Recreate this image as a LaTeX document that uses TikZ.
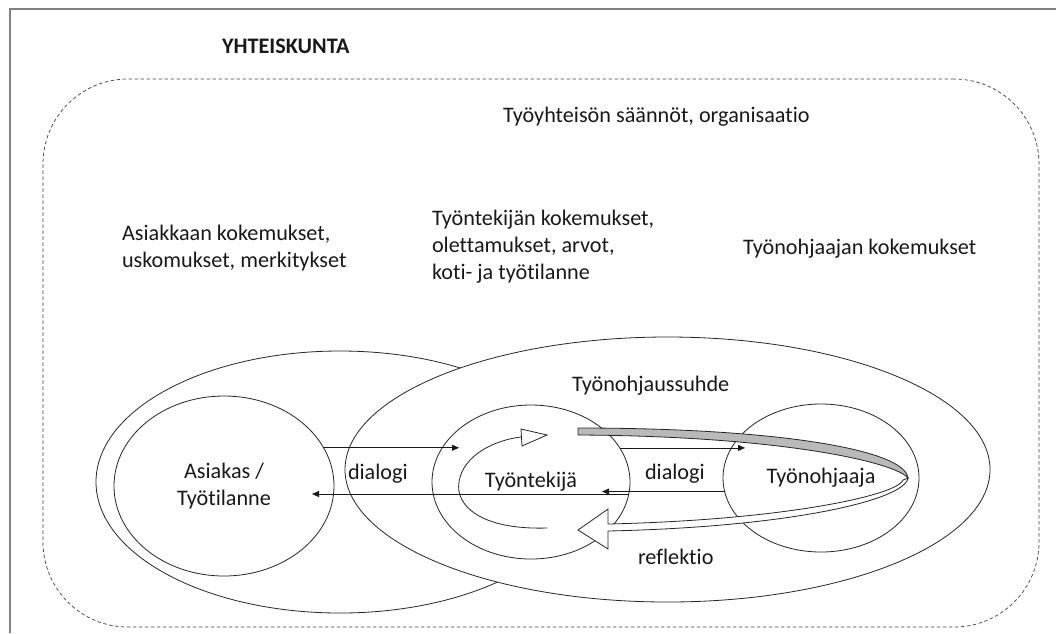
\documentclass[tikz,border=0pt]{standalone}
\usepackage{fontspec}
\setmainfont{Carlito}[Ligatures=NoCommon]
\usetikzlibrary{shapes.geometric,arrows.meta,calc}
\begin{document}
\begin{tikzpicture}[x=1pt,y=-1pt,
  every node/.style={inner sep=0pt, outer sep=0pt},
  txt/.style={font=\fontsize{22.2}{27}\selectfont, text=black!90},
  ring/.style={ellipse, draw=black!85, line width=0.8pt},
  thinline/.style={draw=black!85, line width=0.8pt},
  dlg/.style={draw=black!90, line width=0.8pt, -{Triangle[length=7pt,width=6pt]}},
  society/.style={draw=black!75, line width=0.7pt, dash pattern=on 3.5pt off 2.5pt, rounded corners=85pt},
]
\useasboundingbox (0,0) rectangle (1056,633);

% page frame
\draw[gray, line width=2pt] (10,633) -- (10,9) -- (1056,9);

% society boundary
\node[society, minimum width=996pt, minimum height=548pt] (yhteiskunta) at (541,353) {};
\node[txt, anchor=base west] (yhtlabel) at (222,53) {\bfseries YHTEISKUNTA};

% context texts
\node[txt, anchor=base west] (saannot) at (503,122) {Työyhteisön säännöt, organisaatio};
\node[txt, anchor=base west] (akok1) at (122,240) {Asiakkaan kokemukset,};
\node[txt, anchor=base west] (akok2) at (122,267) {uskomukset, merkitykset};
\node[txt, anchor=base west] (tkok1) at (432,225) {Työntekijän kokemukset,};
\node[txt, anchor=base west] (tkok2) at (432,252) {olettamukset, arvot,};
\node[txt, anchor=base west] (tkok3) at (432,279) {koti- ja työtilanne};
\node[txt, anchor=base west] (tokok) at (743,254) {Työnohjaajan kokemukset};

% fields
\node[ring, fill=white, minimum width=488pt, minimum height=262pt] (asiakasfield) at (340,482) {};
\node[ring, fill=white, minimum width=645pt, minimum height=265pt] (suhde) at (667.5,469.5) {};
\node[txt, anchor=base west] (suhdelabel) at (572,391) {Työnohjaussuhde};

% actors
\node[ring, txt, align=center, minimum width=220pt, minimum height=180pt] (asiakas) at (224,486) {Asiakas /\\Työtilanne};
\node[ring, txt, minimum width=198pt, minimum height=154pt] (tk) at (531,482) {Työntekijä};
\node[ring, txt, minimum width=196pt, minimum height=148pt] (to) at (821,478) {Työnohjaaja};

% dialogue arrows
\draw[dlg] (asiakas.21.5) -- ($(asiakas.21.5 -| tk.west)+(27,0)$);
\draw[dlg] (tk.353.6) -- ($(tk.353.6 -| asiakas.east)+(-22,0)$);
\draw[dlg] (tk.21.6) -- ($(tk.21.6 -| to.west)+(22,0)$);
\draw[dlg] (to.188.9) -- ($(to.188.9 -| tk.east)+(-28,0)$);
\node[txt, anchor=base west] (dialogi1) at (348,479) {dialogi};
\node[txt, anchor=base west] (dialogi2) at (645,479) {dialogi};

% self-reflection loop inside the worker
\draw[thinline] (547,528) .. controls (480,530) and (455,505) .. (459,482)
  .. controls (463,455) and (495,440) .. (521,437);
\draw[thinline, fill=white] (521,429) -- (547,435) -- (522,446) -- cycle;

% reflection ribbon arrow
\draw[thinline, fill=gray!55] (578,428) .. controls (780,428) and (905,450) .. (908,478)
  .. controls (895,462) and (780,436) .. (578,435) -- cycle;
\draw[thinline, fill=white] (908,478) .. controls (905,500) and (790,527) .. (608,531)
  -- (608,549) -- (578,530) -- (608,509) -- (608,524)
  .. controls (785,520) and (898,495) .. (903,480) -- cycle;
\node[txt, anchor=base west] (reflektio) at (638,564) {reflektio};
\end{tikzpicture}
\end{document}
